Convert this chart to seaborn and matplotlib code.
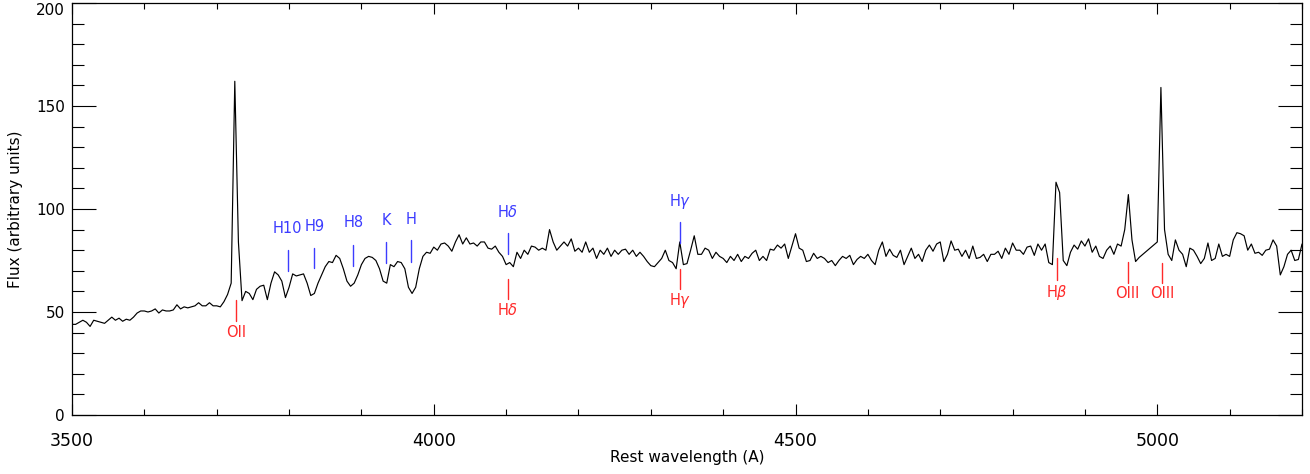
import numpy as np
import matplotlib
matplotlib.use("Agg")
import matplotlib.pyplot as plt
import seaborn as sns
from matplotlib.ticker import MultipleLocator

# ---------------- data ----------------
# evenly sampled rest-frame spectrum, 5 A per pixel starting at 3500 A
wave_start = 3500
wave_step = 5
flux = [
    # 3500-3595
    44, 44, 45, 46, 45, 43, 46, 45.5, 45, 44.5, 46, 47.5, 46, 47, 45.5, 46.5, 46, 47.5, 49.5, 50.5,
    # 3600-3695
    50.5, 50, 50.5, 51.5, 49.5, 51, 50.5, 50.5, 51, 53.5, 51.5, 52.5, 52, 52.5, 53, 54.5, 53, 53, 54.5, 53,
    # 3700-3795
    53, 52.5, 55, 58.5, 64, 162, 84, 55.5, 60, 59, 56, 61, 62.5, 63, 56, 64, 69.5, 68, 65, 57,
    # 3800-3895
    62, 68.5, 67.5, 68, 68.5, 64, 58, 59, 64, 68, 72, 74.5, 74, 77.5, 76, 71, 65, 62.5, 64, 68,
    # 3900-3995
    73, 76, 77, 76.5, 75, 71, 65, 64, 73, 72, 74.5, 74, 71, 62, 59, 62, 71, 77, 79, 78.5,
    # 4000-4095
    81.5, 80, 83, 83.5, 82, 79.5, 84, 87.5, 83, 86, 83, 83.5, 82, 84, 84, 81, 80.5, 82, 79, 77,
    # 4100-4195
    73, 74, 72, 79, 76, 80, 78, 82, 81.5, 80, 81, 80, 90, 84, 80, 82, 84, 82, 85.5, 79.5,
    # 4200-4295
    81, 79, 84, 79, 81, 76, 80, 78, 81, 77, 80, 78, 80, 80.5, 78, 80, 77, 79, 77, 74.5,
    # 4300-4395
    72.5, 72, 74, 76, 80, 75, 74, 71, 84, 73, 73.5, 80, 87, 78, 78, 81, 80, 76, 79, 77,
    # 4400-4495
    76, 74, 77, 75, 78, 74.5, 77, 76, 78.5, 80, 75, 77, 75, 80.5, 80, 82.5, 81, 83, 76, 82,
    # 4500-4595
    88, 81, 80, 74.5, 75, 78.5, 76, 77, 76, 74, 75, 72.5, 75, 77, 76, 77.5, 73, 75.5, 77, 76,
    # 4600-4695
    78, 75, 73, 80, 84, 77, 80.5, 77.5, 76.5, 80, 73, 77, 81, 76, 78, 74.5, 80, 82.5, 79.5, 83,
    # 4700-4795
    84, 74.5, 78, 84.5, 80, 80.5, 77, 80, 76, 82, 76, 76.5, 78, 74.5, 78, 78, 79.5, 76, 81, 78,
    # 4800-4895
    83.5, 80, 80, 78, 81.5, 82, 77.5, 83, 80, 83, 74, 73, 113, 108, 75, 72.5, 79, 82.5, 80.5, 84.5,
    # 4900-4995
    82, 85.5, 79, 82, 77, 76, 80, 82, 78, 83, 82, 90, 107, 85, 74.5, 76.5, 78, 79.5, 81, 82.5,
    # 5000-5095
    84, 159, 90, 78, 75, 85, 80, 78, 72, 81, 80, 77, 73.5, 76, 83.5, 75, 76, 83, 77, 78,
    # 5100-5195
    77, 85, 88.5, 88, 87, 80, 83, 78.5, 79, 77.5, 80, 80.5, 85, 82, 68, 72, 78, 80, 75, 75.5,
    # 5200
    83,
]
wavelength = wave_start + wave_step * np.arange(len(flux))

# absorption features (blue, marked above the spectrum)
abs_names = ["H10", "H9", "H8", "K", "H", r"H$\delta$", r"H$\gamma$"]
abs_wave = [3798, 3835, 3889, 3934, 3968, 4102, 4340]
abs_mark_lo = [70.1, 71.2, 72.3, 73.6, 74.4, 78.2, 83.3]
abs_mark_hi = [80.1, 80.9, 82.5, 84.1, 85.0, 88.2, 93.8]
abs_text_y = [90.6, 91.4, 93.4, 94.2, 95.0, 98.7, 103.5]

# emission features (red, marked below the spectrum)
emi_names = ["OII", r"H$\delta$", r"H$\gamma$", r"H$\beta$", "OIII", "OIII"]
emi_wave = [3727, 4102, 4340, 4861, 4959, 5007]
emi_mark_lo = [45.8, 56.2, 61.0, 65.5, 64.3, 64.0]
emi_mark_hi = [55.8, 66.0, 70.9, 76.0, 74.4, 74.0]
emi_text_y = [40.0, 51.0, 55.8, 59.5, 59.0, 59.0]

# ---------------- plot ----------------
sns.set_theme(style="white")
plt.rcParams["font.family"] = ["DejaVu Sans"]
plt.rcParams["mathtext.fontset"] = "dejavusans"

W, H = 1310, 474
fig = plt.figure(figsize=(W / 100, H / 100), dpi=100)
ax = fig.add_axes([72 / W, 1 - 415 / H, 1230 / W, 412 / H])

sns.lineplot(x=wavelength, y=flux, ax=ax, color="black", lw=0.85, estimator=None)

blue = "#3c3cff"
red = "#ff2a2a"
for name, w, lo, hi, ty in zip(abs_names, abs_wave, abs_mark_lo, abs_mark_hi, abs_text_y):
    ax.plot([w, w], [lo, hi], color=blue, lw=1.0)
    ax.text(w, ty, name, color=blue, ha="center", va="center", fontsize=10.5)
for name, w, lo, hi, ty in zip(emi_names, emi_wave, emi_mark_lo, emi_mark_hi, emi_text_y):
    ax.plot([w, w], [lo, hi], color=red, lw=1.0)
    ax.text(w, ty, name, color=red, ha="center", va="center", fontsize=10.5)

ax.set_xlim(3500, 5200)
ax.set_ylim(0, 200)
ax.xaxis.set_major_locator(MultipleLocator(500))
ax.xaxis.set_minor_locator(MultipleLocator(100))
ax.yaxis.set_major_locator(MultipleLocator(50))
ax.yaxis.set_minor_locator(MultipleLocator(10))

ax.tick_params(axis="both", which="both", direction="in",
               left=True, bottom=True, top=True, right=True,
               color="black", width=0.8, labelcolor="black")
ax.tick_params(axis="y", which="major", length=17, pad=5, labelsize=11)
ax.tick_params(axis="y", which="minor", length=8.5)
ax.tick_params(axis="x", which="major", length=8, pad=12, labelsize=12.5)
ax.tick_params(axis="x", which="minor", length=4)

for s in ax.spines.values():
    s.set_color("black")
    s.set_linewidth(0.9)

ax.set_xlabel("Rest wavelength (A)", fontsize=11, color="black")
ax.set_ylabel("Flux (arbitrary units)", fontsize=11, color="black")
ax.xaxis.set_label_coords(0.5, (415 - 450) / 412)
ax.yaxis.set_label_coords((23 - 72) / 1230, 0.5)

fig.canvas.draw()
for lab in ax.get_yticklabels():
    if lab.get_text() == "200":
        lab.set_va("top")

fig.savefig("out.png", dpi=100, facecolor="white")
